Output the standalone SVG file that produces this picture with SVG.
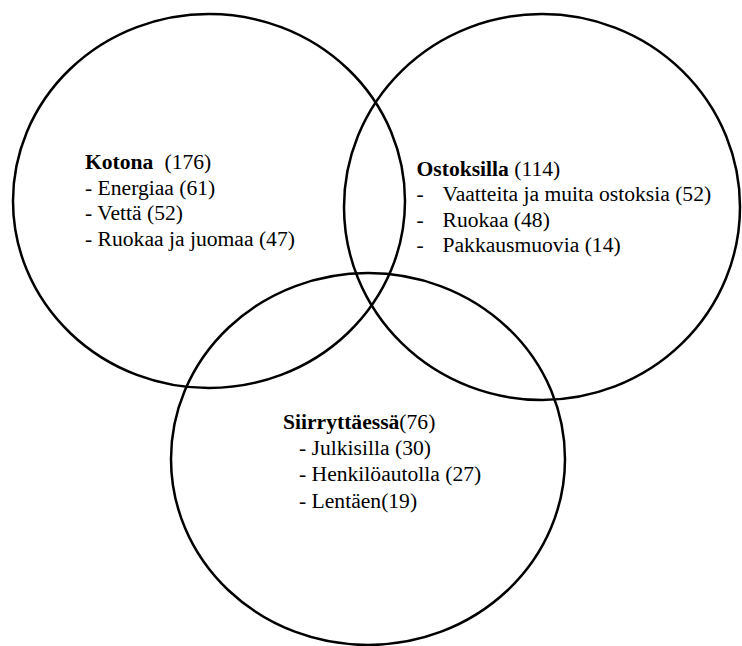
<svg xmlns="http://www.w3.org/2000/svg" width="742" height="646" viewBox="0 0 742 646">
<style>
.c{fill:none;stroke:#000;stroke-width:2.5}
.t{font-family:'Liberation Serif',Tinos,'Times New Roman','Noto Serif','DejaVu Serif',serif;font-size:21.6px;fill:#000}
.b{font-weight:bold}
</style>
<rect width="742" height="646" fill="#fff"/>
<g id="kotona">
<ellipse class="c" cx="209" cy="201" rx="196" ry="187"/>
<text class="t" x="85" y="168.5"><tspan class="b">Kotona</tspan><tspan x="164.5">(176)</tspan></text>
<text class="t" x="85" y="194.5">- Energiaa (61)</text>
<text class="t" x="85" y="220">- Vettä (52)</text>
<text class="t" x="85" y="245.5">- Ruokaa ja juomaa (47)</text>
</g>
<g id="ostoksilla">
<ellipse class="c" cx="542" cy="207" rx="198" ry="193"/>
<text class="t" x="416.5" y="175.5"><tspan class="b">Ostoksilla</tspan> (114)</text>
<text class="t" x="416.5" y="201">-</text><text class="t" x="442.5" y="201">Vaatteita ja muita ostoksia (52)</text>
<text class="t" x="416.5" y="226.5">-</text><text class="t" x="442.5" y="226.5">Ruokaa (48)</text>
<text class="t" x="416.5" y="252">-</text><text class="t" x="442.5" y="252">Pakkausmuovia (14)</text>
</g>
<g id="siirryttaessa">
<ellipse class="c" cx="368" cy="459" rx="197" ry="186"/>
<text class="t" x="283" y="428.5"><tspan class="b">Siirryttäessä</tspan>(76)</text>
<text class="t" x="299" y="455">- Julkisilla (30)</text>
<text class="t" x="299" y="481">- Henkilöautolla (27)</text>
<text class="t" x="299" y="507.5">- Lentäen(19)</text>
</g>
<g id="connectors"/>
</svg>
